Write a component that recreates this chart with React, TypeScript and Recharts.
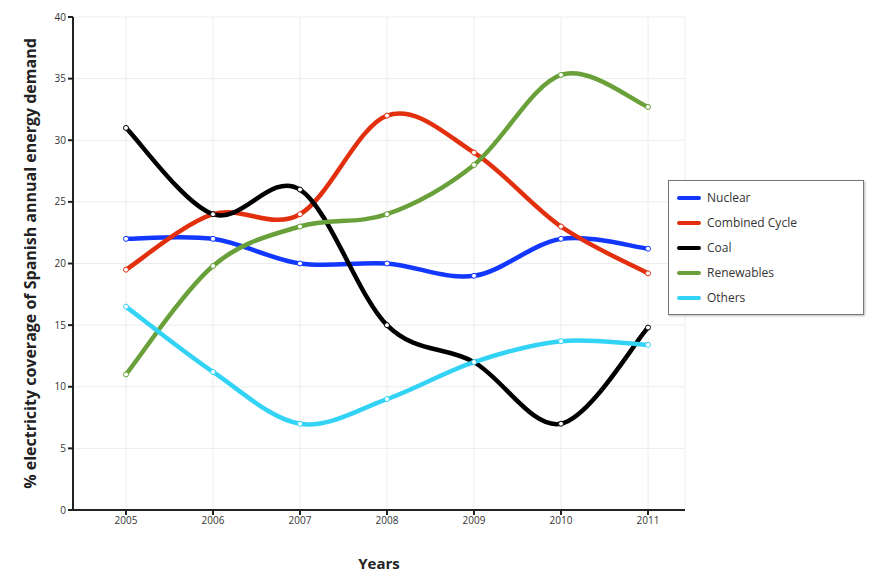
import React from 'react'
import { LineChart, Line, XAxis, YAxis, CartesianGrid } from 'recharts'

const years = ['2005', '2006', '2007', '2008', '2009', '2010', '2011']
const nuclear = [22, 22, 20, 20, 19, 22, 21.2]
const combinedCycle = [19.5, 24, 24, 32, 29, 23, 19.2]
const coal = [31, 24, 26, 15, 12, 7, 14.8]
const renewables = [11, 19.8, 23, 24, 28, 35.3, 32.7]
const others = [16.5, 11.2, 7, 9, 12, 13.7, 13.4]
const yTicks = [0, 5, 10, 15, 20, 25, 30, 35, 40]

const series = [
  { key: 'Nuclear', values: nuclear, color: '#1237ff' },
  { key: 'Combined Cycle', values: combinedCycle, color: '#e2300f' },
  { key: 'Coal', values: coal, color: '#000000' },
  { key: 'Renewables', values: renewables, color: '#69a03a' },
  { key: 'Others', values: others, color: '#33d3f6' },
]

const data = years.map((year, i) => {
  const row: Record<string, string | number> = { year }
  series.forEach(s => { row[s.key] = s.values[i] })
  return row
})

// catmull-rom style smoothing, overshoots a bit like the original
const cardinal = (context: any) => {
  let pts: number[][] = []
  return {
    areaStart() {},
    areaEnd() {},
    lineStart() { pts = [] },
    point(x: number, y: number) { pts.push([+x, +y]) },
    lineEnd() {
      if (!pts.length) return
      context.moveTo(pts[0][0], pts[0][1])
      const k = 1 / 6
      for (let i = 0; i < pts.length - 1; i++) {
        const p0 = pts[i - 1] || pts[i]
        const p1 = pts[i]
        const p2 = pts[i + 1]
        const p3 = pts[i + 2] || p2
        context.bezierCurveTo(
          p1[0] + (p2[0] - p0[0]) * k, p1[1] + (p2[1] - p0[1]) * k,
          p2[0] - (p3[0] - p1[0]) * k, p2[1] - (p3[1] - p1[1]) * k,
          p2[0], p2[1]
        )
      }
    },
  }
}

const font = '"Open Sans", sans-serif'

const LegendBox = () => (
  <div style={{ position: 'absolute', left: 668, top: 180, width: 196, boxSizing: 'border-box', border: '1.5px solid #777', background: '#fff', padding: '4px 0 4px 8px', fontFamily: font, fontSize: 12, color: '#333', boxShadow: '1px 1px 2px #bbb' }}>
    {series.map(s => (
      <div key={s.key} style={{ display: 'flex', alignItems: 'center', height: 25 }}>
        <span style={{ display: 'inline-block', width: 24, height: 4, borderRadius: 2, background: s.color, marginRight: 6 }} />
        {s.key}
      </div>
    ))}
  </div>
)

export default function App() {
  return (
    <div style={{ position: 'absolute', left: 0, top: 0, width: 885, height: 586, background: '#fff' }}>
      <LineChart width={885} height={586} data={data} margin={{ top: 17, right: 200, bottom: 0, left: 13 }}>
        <CartesianGrid stroke='#ececec' />
        <XAxis
          dataKey='year'
          padding={{ left: 53, right: 37 }}
          height={76}
          stroke='#222'
          strokeWidth={2}
          tick={{ fill: '#333', fontSize: 10, fontFamily: font }}
          tickSize={5}
          label={{ value: 'Years', position: 'insideBottom', offset: 17, style: { fontFamily: font, fontWeight: 700, fontSize: 15, fill: '#222' } }}
        />
        <YAxis
          domain={[0, 40]}
          ticks={yTicks}
          width={60}
          stroke='#222'
          strokeWidth={2}
          tick={{ fill: '#333', fontSize: 10, fontFamily: font }}
          tickSize={5}
          label={{ value: '% electricity coverage of Spanish annual energy demand', angle: -90, position: 'insideLeft', offset: 17, style: { textAnchor: 'middle', fontFamily: font, fontWeight: 700, fontSize: 16, fill: '#222' } }}
        />
        {series.map(s => (
          <Line
            key={s.key}
            dataKey={s.key}
            type={cardinal as any}
            stroke={s.color}
            strokeWidth={4.5}
            dot={{ r: 2.5, fill: '#fff', stroke: s.color, strokeWidth: 1 }}
            activeDot={false}
            isAnimationActive={false}
          />
        ))}
      </LineChart>
      <LegendBox />
    </div>
  )
}
